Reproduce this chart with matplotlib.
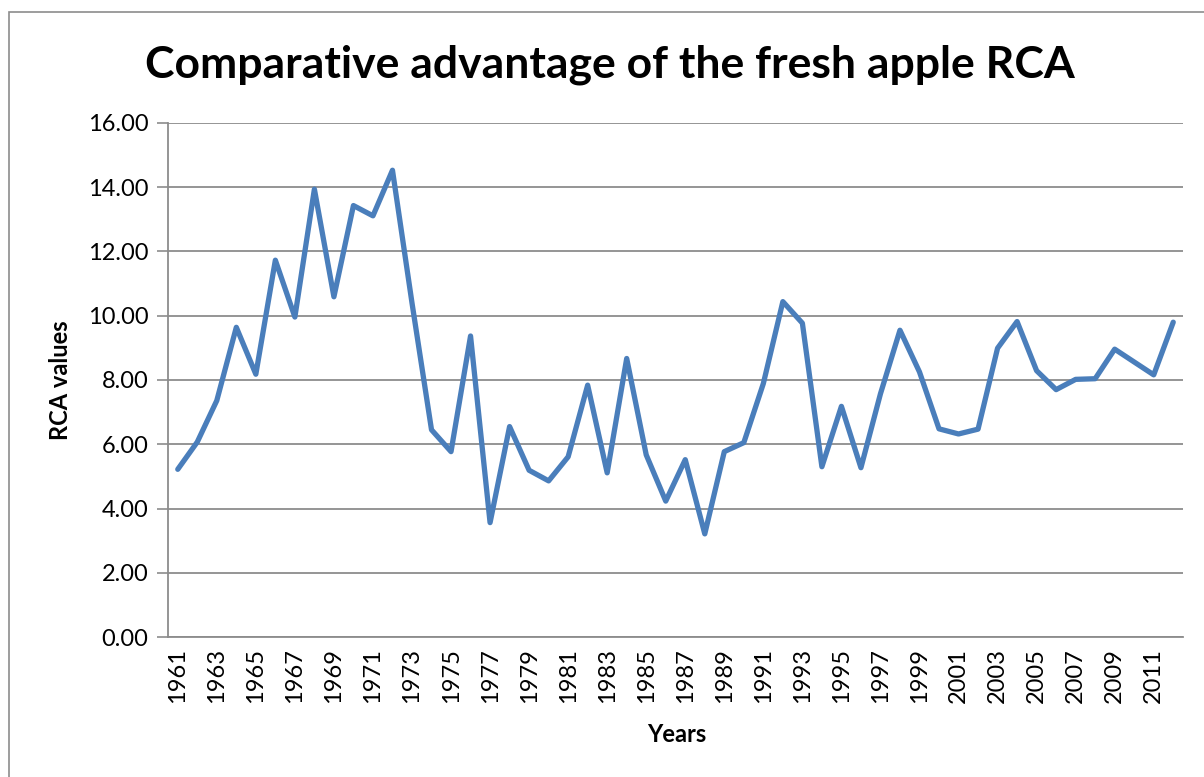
import matplotlib
matplotlib.use("Agg")
import matplotlib.pyplot as plt
from matplotlib.patches import Rectangle

years = list(range(1961, 2013))
rca = [5.22, 6.07, 7.36, 9.64, 8.18, 11.73, 9.96, 13.94, 10.59, 13.43,
       13.11, 14.53, 10.40, 6.45, 5.77, 9.37, 3.56, 6.55, 5.19, 4.86,
       5.61, 7.84, 5.11, 8.67, 5.67, 4.23, 5.52, 3.21, 5.77, 6.05,
       7.89, 10.44, 9.77, 5.30, 7.18, 5.27, 7.57, 9.55, 8.25, 6.48,
       6.32, 6.47, 8.99, 9.82, 8.29, 7.70, 8.02, 8.04, 8.96, 8.56,
       8.16, 9.80]
yticks = [0, 2, 4, 6, 8, 10, 12, 14, 16]

plt.rcParams['font.family'] = ['Lato', 'DejaVu Sans']

fig = plt.figure(figsize=(12.04, 7.77), dpi=100)
fig.patches.append(Rectangle((8.5/1204, -0.1), 1.2, (777-11.5)/777 + 0.1,
                             transform=fig.transFigure, fill=False,
                             edgecolor='#8c8c8c', linewidth=1.2))
ax = fig.add_axes([168/1204, (777-637)/777, (1183-168)/1204, (637-123)/777])

x = list(range(len(years)))
ax.plot(x, rca, color='#4a7ebb', linewidth=3.8, solid_joinstyle='round',
        solid_capstyle='round', zorder=3)

ax.set_xlim(-0.5, len(years) - 0.5)
ax.set_ylim(0, 16)
ax.set_yticks(yticks)
ax.set_yticklabels([f"{v:.2f}" for v in yticks], fontsize=17)
ax.yaxis.grid(True, color='#8c8c8c', linewidth=1.3)
ax.set_axisbelow(True)

ax.set_xticks(x[::2])
ax.set_xticklabels([str(y) for y in years[::2]], rotation=90, fontsize=17)
ax.tick_params(axis='x', length=0, pad=8)
ax.tick_params(axis='y', length=8, width=1.2, color='#8c8c8c', pad=6)

for side in ['top', 'right']:
    ax.spines[side].set_visible(False)
for side in ['left', 'bottom']:
    ax.spines[side].set_color('#8c8c8c')
    ax.spines[side].set_linewidth(1.3)

fig.text(610/1204, 1 - 65/777, 'Comparative advantage of the fresh apple RCA',
         ha='center', va='center', fontsize=32, fontweight='bold')
fig.text(60/1204, 1 - 380/777, 'RCA values', ha='center', va='center',
         rotation=90, fontsize=17, fontweight='bold')
fig.text(677/1204, 1 - 734/777, 'Years', ha='center', va='center',
         fontsize=17, fontweight='bold')

fig.savefig('out.png', dpi=100)
